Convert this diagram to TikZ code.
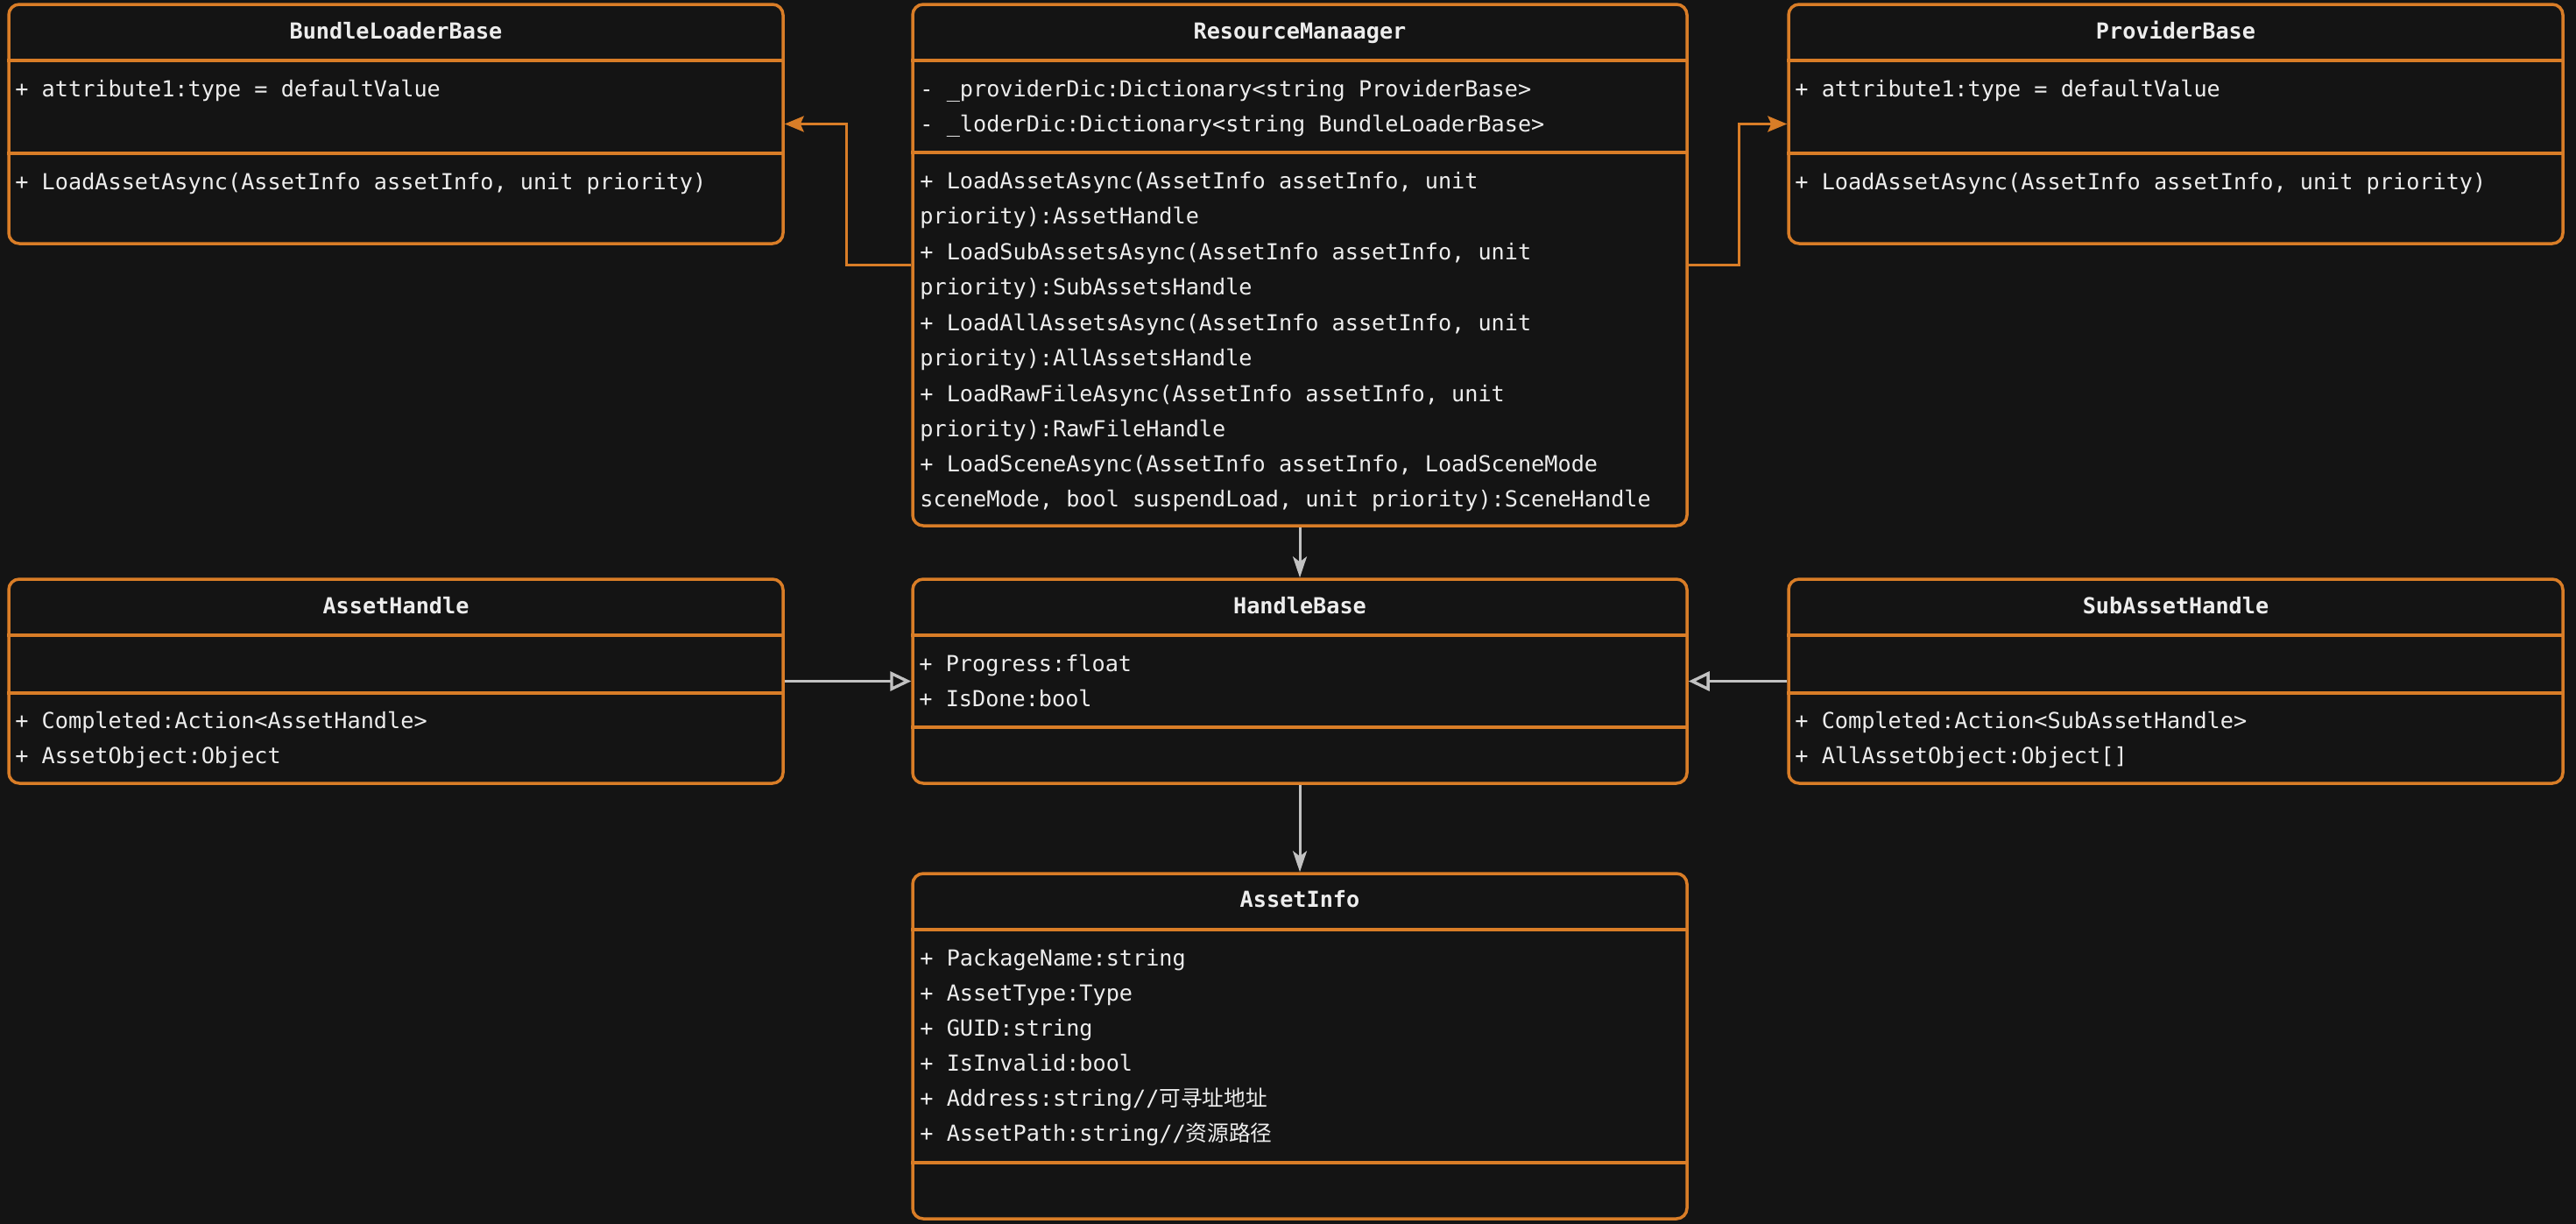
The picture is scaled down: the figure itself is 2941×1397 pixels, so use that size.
\documentclass[tikz,border=0pt]{standalone}
\usepackage{fontspec}
\setmonofont{DejaVu Sans Mono}
\newfontfamily\cjk[Scale=0.98]{Noto Sans CJK SC}
\usetikzlibrary{arrows.meta}
\definecolor{bg}{HTML}{141414}
\definecolor{orng}{HTML}{D97D27}
\definecolor{txt}{HTML}{EDEDED}
\definecolor{gry}{HTML}{C2C2C2}
\begin{document}
\begin{tikzpicture}[x=0.5pt,y=-0.5pt,
  cls/.style={draw=orng, line width=1.75pt, rounded corners=6pt, fill=bg, inner sep=0pt, minimum width=442pt},
  ttl/.style={font=\ttfamily\bfseries\fontsize{12.6pt}{15pt}\selectfont, text=txt, anchor=base, inner sep=0pt},
  ln/.style={font=\ttfamily\fontsize{12.6pt}{15pt}\selectfont, text=txt, anchor=base west, inner sep=0pt},
  sepline/.style={draw=orng, line width=1.6pt},
  assoc/.style={draw=orng, line width=1.5pt, -{Stealth[length=11pt,width=9pt,inset=2pt]}},
  dep/.style={draw=gry, line width=1.5pt, -{Stealth[length=12pt,width=8pt,inset=3pt]}},
  gen/.style={draw=gry, line width=1.7pt, -{Triangle[open,length=12pt,width=11pt]}}
]
\fill[bg] (0,0) rectangle (2941,1397);
\useasboundingbox (0,0) rectangle (2941,1397);

% boxes
\node[cls, minimum height=136.5pt] (blb) at (452,141.5) {};
\node[cls, minimum height=297.5pt] (rm) at (1484,302.5) {};
\node[cls, minimum height=136.5pt] (pb) at (2484,141.5) {};
\node[cls, minimum height=116.5pt] (ah) at (452,777.5) {};
\node[cls, minimum height=116.5pt] (hb) at (1484,777.5) {};
\node[cls, minimum height=116.5pt] (sah) at (2484,777.5) {};
\node[cls, minimum height=197pt] (ai) at (1484,1194) {};

% separators
\draw[sepline] (blb.west |- 0,69) -- (blb.east |- 0,69);
\draw[sepline] (blb.west |- 0,175) -- (blb.east |- 0,175);
\draw[sepline] (rm.west |- 0,69) -- (rm.east |- 0,69);
\draw[sepline] (rm.west |- 0,174) -- (rm.east |- 0,174);
\draw[sepline] (pb.west |- 0,69) -- (pb.east |- 0,69);
\draw[sepline] (pb.west |- 0,175) -- (pb.east |- 0,175);
\draw[sepline] (ah.west |- 0,725) -- (ah.east |- 0,725);
\draw[sepline] (ah.west |- 0,791) -- (ah.east |- 0,791);
\draw[sepline] (hb.west |- 0,725) -- (hb.east |- 0,725);
\draw[sepline] (hb.west |- 0,830) -- (hb.east |- 0,830);
\draw[sepline] (sah.west |- 0,725) -- (sah.east |- 0,725);
\draw[sepline] (sah.west |- 0,791) -- (sah.east |- 0,791);
\draw[sepline] (ai.west |- 0,1061) -- (ai.east |- 0,1061);
\draw[sepline] (ai.west |- 0,1327) -- (ai.east |- 0,1327);

% BundleLoaderBase
\node[ttl] (blbT) at (452,44) {BundleLoaderBase};
\node[ln] (blbA) at (17,110) {+ attribute1:type = defaultValue};
\node[ln] (blbM) at (17,216) {+ LoadAssetAsync(AssetInfo assetInfo, unit priority)};

% ResourceManaager
\node[ttl] (rmT) at (1484,44) {ResourceManaager};
\node[ln] (rmA1) at (1050,110) {- \_providerDic:Dictionary<string ProviderBase>};
\node[ln] (rmA2) at (1050,150) {- \_loderDic:Dictionary<string BundleLoaderBase>};
\node[ln] (rmM1) at (1050,215) {+ LoadAssetAsync(AssetInfo assetInfo, unit};
\node[ln] (rmM2) at (1050,255) {priority):AssetHandle};
\node[ln] (rmM3) at (1050,296) {+ LoadSubAssetsAsync(AssetInfo assetInfo, unit};
\node[ln] (rmM4) at (1050,336) {priority):SubAssetsHandle};
\node[ln] (rmM5) at (1050,377) {+ LoadAllAssetsAsync(AssetInfo assetInfo, unit};
\node[ln] (rmM6) at (1050,417) {priority):AllAssetsHandle};
\node[ln] (rmM7) at (1050,458) {+ LoadRawFileAsync(AssetInfo assetInfo, unit};
\node[ln] (rmM8) at (1050,498) {priority):RawFileHandle};
\node[ln] (rmM9) at (1050,538) {+ LoadSceneAsync(AssetInfo assetInfo, LoadSceneMode};
\node[ln] (rmM10) at (1050,578) {sceneMode, bool suspendLoad, unit priority):SceneHandle};

% ProviderBase
\node[ttl] (pbT) at (2484,44) {ProviderBase};
\node[ln] (pbA) at (2049,110) {+ attribute1:type = defaultValue};
\node[ln] (pbM) at (2049,216) {+ LoadAssetAsync(AssetInfo assetInfo, unit priority)};

% AssetHandle
\node[ttl] (ahT) at (452,700) {AssetHandle};
\node[ln] (ahM1) at (17,831) {+ Completed:Action<AssetHandle>};
\node[ln] (ahM2) at (17,871) {+ AssetObject:Object};

% HandleBase
\node[ttl] (hbT) at (1484,700) {HandleBase};
\node[ln] (hbA1) at (1049,766) {+ Progress:float};
\node[ln] (hbA2) at (1049,806) {+ IsDone:bool};

% SubAssetHandle
\node[ttl] (sahT) at (2484,700) {SubAssetHandle};
\node[ln] (sahM1) at (2049,831) {+ Completed:Action<SubAssetHandle>};
\node[ln] (sahM2) at (2049,871) {+ AllAssetObject:Object[]};

% AssetInfo
\node[ttl] (aiT) at (1484,1035) {AssetInfo};
\node[ln] (ai1) at (1050,1102) {+ PackageName:string};
\node[ln] (ai2) at (1050,1142) {+ AssetType:Type};
\node[ln] (ai3) at (1050,1182) {+ GUID:string};
\node[ln] (ai4) at (1050,1222) {+ IsInvalid:bool};
\node[ln] (ai5) at (1050,1262) {+ Address:string//{\cjk 可寻址地址}};
\node[ln] (ai6) at (1050,1302) {+ AssetPath:string//{\cjk 资源路径}};

% connectors
\draw[assoc] (rm.west) -- ++(-74,0) |- (blb.east);
\draw[assoc] (rm.east) -- ++(58,0) |- (pb.west);
\draw[dep] (rm.south) -- (hb.north);
\draw[dep] (hb.south) -- (ai.north);
\draw[gen] (ah.east) -- (hb.west);
\draw[gen] (sah.west) -- (hb.east);
\end{tikzpicture}
\end{document}
